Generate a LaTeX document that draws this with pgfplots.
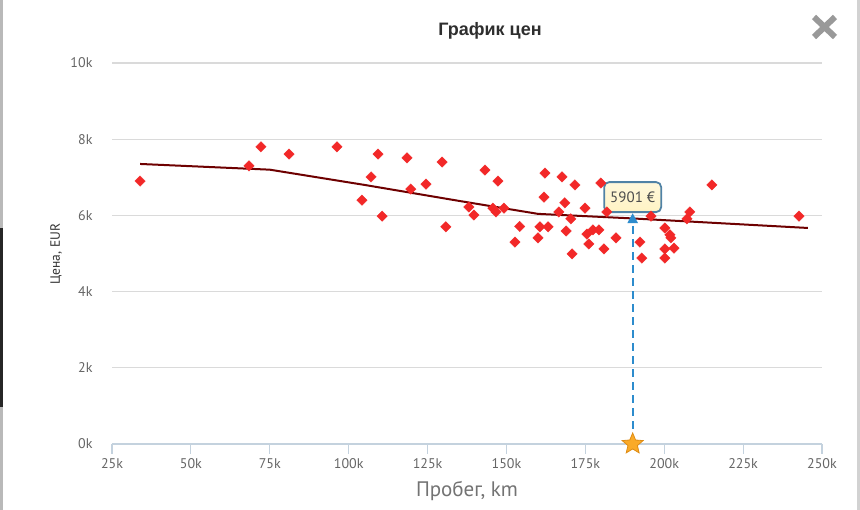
\documentclass[border=0pt]{standalone}
\usepackage{pgfplots}
\pgfplotsset{compat=1.18}
\usepackage{fontspec}
\setmainfont{PT Sans}
\newfontfamily\titlefont{Liberation Sans}
\usetikzlibrary{arrows.meta}
\definecolor{ptred}{RGB}{242,40,40}
\definecolor{trend}{RGB}{110,0,0}
\definecolor{axcol}{RGB}{196,210,222}
\definecolor{gridcol}{RGB}{218,218,218}
\definecolor{labcol}{RGB}{102,102,102}
\definecolor{arrcol}{RGB}{45,140,205}
\definecolor{tipfill}{RGB}{255,243,196}
\definecolor{tipdraw}{RGB}{80,130,165}
\definecolor{starfill}{RGB}{250,170,40}
\definecolor{stardraw}{RGB}{222,140,20}
\pgfdeclareplotmark{gstar}{%
  \pgfpathmoveto{\pgfpointpolar{90}{\pgfplotmarksize}}%
  \pgfpathlineto{\pgfpointpolar{126}{0.45\pgfplotmarksize}}%
  \pgfpathlineto{\pgfpointpolar{162}{\pgfplotmarksize}}%
  \pgfpathlineto{\pgfpointpolar{198}{0.45\pgfplotmarksize}}%
  \pgfpathlineto{\pgfpointpolar{234}{\pgfplotmarksize}}%
  \pgfpathlineto{\pgfpointpolar{270}{0.45\pgfplotmarksize}}%
  \pgfpathlineto{\pgfpointpolar{306}{\pgfplotmarksize}}%
  \pgfpathlineto{\pgfpointpolar{342}{0.45\pgfplotmarksize}}%
  \pgfpathlineto{\pgfpointpolar{18}{\pgfplotmarksize}}%
  \pgfpathlineto{\pgfpointpolar{54}{0.45\pgfplotmarksize}}%
  \pgfpathclose
  \pgfusepathqfillstroke
}
\pgfplotstableread{
x y
33.9 6.90
68.4 7.30
72.2 7.80
81.1 7.61
96.3 7.80
104.2 6.40
107.1 7.01
109.3 7.61
110.6 5.98
118.5 7.51
119.7 6.69
124.5 6.82
129.6 7.40
130.8 5.70
138.1 6.22
139.7 6.01
143.2 7.19
145.7 6.19
146.7 6.09
147.3 6.90
149.2 6.19
152.7 5.30
154.2 5.71
160.0 5.41
160.6 5.70
161.9 6.48
162.2 7.11
163.2 5.70
166.6 6.09
167.6 7.01
168.5 6.33
168.9 5.59
170.4 5.91
170.8 4.99
171.7 6.80
174.9 6.19
175.5 5.51
176.1 5.25
177.4 5.62
179.3 5.62
179.9 6.85
180.9 5.12
181.8 6.09
184.7 5.41
192.3 5.30
192.9 4.88
195.8 5.98
200.2 5.67
200.2 5.12
200.2 4.88
201.8 5.49
202.1 5.41
203.1 5.14
207.2 5.91
208.1 6.09
215.1 6.80
242.7 5.98
}\pts
\pgfplotstableread{
x y
33.9 7.35
75 7.20
105 6.80
135 6.38
160 6.04
190 5.92
245.5 5.67
}\trendtab
\begin{document}
\begin{tikzpicture}[x=1pt,y=1pt]
\fill[white] (0,0) rectangle (860,510);
\useasboundingbox (0,0) rectangle (860,510);
\fill[gray!55] (0,0) rectangle (2.5,510);
\fill[black!85] (0,103) rectangle (2.5,282);
\fill[gray!35] (857,0) rectangle (860,510);
\node[font=\titlefont\bfseries\fontsize{18}{20}\selectfont, text=black!82] at (490,479) {График цен};
\draw[line width=6pt, color=black!40] (814,493) -- (835,473) (814,473) -- (835,493);
\node[rotate=90, font=\fontsize{13.5}{15}\selectfont, text=black!80] at (56,256) {Цена, EUR};
\node[font=\fontsize{21}{23}\selectfont, text=black!55] at (467,19) {Пробег, km};
\begin{axis}[
  at={(112pt,66pt)}, anchor=south west, scale only axis,
  width=710pt, height=381pt,
  xmin=25, xmax=250, ymin=0, ymax=10,
  axis lines*=left,
  y axis line style={draw=none},
  x axis line style={draw=axcol, line width=1.2pt},
  xtick={25,50,...,250},
  xticklabels={25k,50k,75k,100k,125k,150k,175k,200k,225k,250k},
  ytick={0,2,4,6,8,10},
  yticklabels={0k,2k,4k,6k,8k,10k},
  tick align=outside, major tick length=10pt,
  xtick style={draw=axcol, line width=1.2pt},
  ytick style={draw=none},
  ymajorgrids, major grid style={draw=gridcol, line width=1.1pt},
  tick label style={font=\fontsize{14}{16}\selectfont, text=labcol},
  xticklabel style={yshift=-1.5pt},
  yticklabel style={xshift=-6pt},
  clip=false,
]
\addplot[draw=trend, line width=2pt] table[x=x,y=y] {\trendtab};
\addplot[only marks, mark=square*, mark size=3.7pt,
  mark options={rotate=45, fill=ptred, draw=ptred, line width=0.3pt}] table[x=x,y=y] {\pts};
\addplot[draw=arrcol, line width=2.3pt, dash pattern=on 8pt off 5pt,
  -{Triangle[length=10pt,width=10pt]}] coordinates {(190,0.40) (190,6.06)};
\addplot[only marks, mark=gstar, mark size=11pt,
  mark options={fill=starfill, draw=stardraw, line width=0.8pt}] coordinates {(190,0)};
\node[draw=tipdraw, line width=1.8pt, rounded corners=5pt,
  top color=tipfill!60!white, bottom color=tipfill,
  minimum width=57pt, minimum height=30pt, inner sep=2pt,
  font=\fontsize{15}{17}\selectfont, text=black!70] at (axis cs:190,6.48) {5901 €};
\end{axis}
\end{tikzpicture}
\end{document}
